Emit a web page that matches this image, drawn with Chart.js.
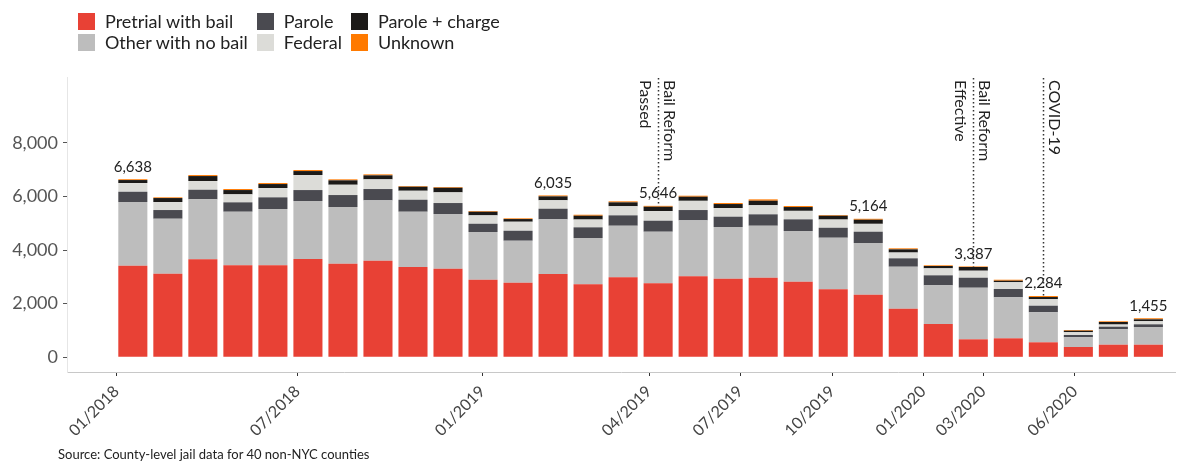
<!DOCTYPE html>
<html>
<head>
<meta charset="utf-8">
<title>Jail population by status</title>
<script src="https://cdn.jsdelivr.net/npm/chart.js@4"></script>
<style>
  html, body { margin: 0; padding: 0; background: #fff; }
  #wrap { position: relative; width: 1204px; height: 462px; font-family: Lato, sans-serif; }
  #chart { position: absolute; left: 0; top: 0; }
  #legend {
    position: absolute; left: 78px; top: 11px;
    display: grid; grid-template-rows: 21px 21px; grid-auto-flow: column; column-gap: 9px;
    font-size: 18px; color: #222;
  }
  .item { display: flex; align-items: center; line-height: 21px; white-space: nowrap; }
  .sw { width: 17px; height: 17px; margin-right: 10px; }
  #source { position: absolute; left: 58px; top: 446px; font-size: 13px; color: #222; }
</style>
</head>
<body>
<div id="wrap">
  <canvas id="chart" width="1204" height="462"></canvas>
  <div id="legend"></div>
  <div id="source">Source: County-level jail data for 40 non-NYC counties</div>
</div>
<script>
// Meses (uma barra por mês)
var months = ['01/2018', '02/2018', '03/2018', '04/2018', '05/2018', '06/2018', '07/2018', '08/2018', '09/2018', '10/2018', '11/2018', '12/2018',
              '01/2019', '02/2019', '03/2019', '04/2019', '05/2019', '06/2019', '07/2019', '08/2019', '09/2019', '10/2019', '11/2019', '12/2019',
              '01/2020', '02/2020', '03/2020', '04/2020', '05/2020', '06/2020'];

// Séries (de baixo para cima na pilha)
var pretrial     = [3414, 3116, 3652, 3429, 3429, 3664, 3489, 3601, 3365, 3302, 2892, 2780, 3105, 2721, 2982, 2758, 3019, 2929, 2967, 2818, 2534, 2333, 1811, 1241, 671, 708, 559, 384, 470, 470];
var otherNoBail  = [2374, 2050, 2237, 1998, 2098, 2161, 2113, 2250, 2062, 2039, 1778, 1566, 2038, 1725, 1923, 1924, 2086, 1928, 1938, 1889, 1924, 1927, 1566, 1442, 1923, 1528, 1118, 361, 574, 659];
var parole       = [384, 324, 358, 350, 436, 410, 447, 422, 447, 410, 309, 372, 396, 399, 387, 410, 385, 385, 425, 436, 372, 422, 313, 373, 373, 310, 246, 86, 97, 101];
var federal      = [324, 298, 324, 298, 347, 559, 384, 361, 335, 398, 313, 336, 316, 291, 340, 360, 344, 323, 339, 317, 306, 294, 216, 261, 261, 253, 242, 104, 81, 115];
var paroleCharge = [112, 149, 186, 160, 149, 149, 164, 149, 150, 172, 135, 100, 145, 142, 145, 162, 153, 149, 168, 142, 142, 153, 119, 86, 138, 56, 82, 56, 94, 71];
var unknown      = [30, 26, 37, 38, 37, 38, 37, 37, 25, 26, 26, 26, 35, 37, 37, 32, 37, 37, 51, 37, 25, 35, 37, 26, 21, 37, 37, 26, 26, 39];

// Rótulos do eixo x (posição em unidades de barra, como no original)
var tickLabels = ['01/2018', '07/2018', '01/2019', '04/2019', '07/2019', '10/2019', '01/2020', '03/2020', '06/2020'];
var tickAt     = [-0.47, 4.70, 9.98, 14.74, 17.34, 19.97, 22.57, 24.28, 26.90];
var yTicks     = [0, 2000, 4000, 6000, 8000];

// Totais rotulados e eventos
var labeledTotals = ['01/2018', '01/2019', '04/2019', '10/2019', '01/2020', '03/2020', '06/2020'];
var eventMonths = ['04/2019', '01/2020', '03/2020'];
var eventTexts  = [['Bail Reform', 'Passed'], ['Bail Reform', 'Effective'], ['COVID-19']];

var series = [
    { name: 'Pretrial with bail', values: pretrial, color: '#e84135' },
    { name: 'Other with no bail', values: otherNoBail, color: '#bdbdbd' },
    { name: 'Parole', values: parole, color: '#4a4a50' },
    { name: 'Federal', values: federal, color: '#dcdcd8' },
    { name: 'Parole + charge', values: paroleCharge, color: '#1c1a18' },
    { name: 'Unknown', values: unknown, color: '#ff7a00' }
];

var totals = months.map(function (m, i) {
    return series.reduce(function (s, d) { return s + d.values[i]; }, 0);
});

// Legenda em HTML
var legend = document.getElementById('legend');
series.forEach(function (s) {
    var item = document.createElement('div');
    item.className = 'item';
    item.innerHTML = '<span class="sw" style="background:' + s.color + '"></span>' + s.name;
    legend.appendChild(item);
});

var overlay = {
    id: 'overlay',
    afterDatasetsDraw: function (chart) {
        var ctx = chart.ctx, area = chart.chartArea;
        var x = chart.scales.x, y = chart.scales.y;
        ctx.save();

        eventMonths.forEach(function (m, k) {
            var i = months.indexOf(m);
            var px = Math.round(x.getPixelForValue(i)) + 0.5;
            ctx.beginPath();
            ctx.setLineDash([1.5, 2.5]);
            ctx.lineWidth = 1.5;
            ctx.strokeStyle = '#333';
            ctx.moveTo(px, area.top + 1);
            ctx.lineTo(px, y.getPixelForValue(totals[i]));
            ctx.stroke();

            ctx.save();
            ctx.translate(px, area.top + 3);
            ctx.rotate(Math.PI / 2);
            ctx.fillStyle = '#222';
            ctx.font = '16px Lato';
            ctx.textAlign = 'left';
            ctx.textBaseline = 'alphabetic';
            eventTexts[k].forEach(function (t, j) {
                ctx.fillText(t, 0, j === 0 ? -5 : 19);
            });
            ctx.restore();
        });

        ctx.setLineDash([]);
        ctx.fillStyle = '#222';
        ctx.font = '15px Lato';
        ctx.textAlign = 'center';
        ctx.textBaseline = 'bottom';
        labeledTotals.forEach(function (m) {
            var i = months.indexOf(m);
            ctx.fillText(totals[i].toLocaleString('en-US'), x.getPixelForValue(i), y.getPixelForValue(totals[i]) - 5);
        });
        ctx.restore();
    }
};

var ctxChart = document.getElementById('chart').getContext('2d');
var chart = new Chart(ctxChart, {
    type: 'bar',
    data: {
        datasets: series.map(function (s) {
            return {
                label: s.name,
                data: s.values.map(function (v, i) { return { x: i, y: v }; }),
                backgroundColor: s.color,
                borderWidth: 0,
                categoryPercentage: 1,
                barPercentage: 0.83
            };
        })
    },
    options: {
        responsive: false,
        animation: false,
        layout: { padding: { top: 77, right: 29, bottom: 0, left: 0 } },
        plugins: { legend: { display: false }, tooltip: { enabled: false } },
        scales: {
            x: {
                type: 'linear',
                stacked: true,
                offset: false,
                min: -1.88,
                max: 29.76,
                afterFit: function (s) { s.height = 90; },
                afterBuildTicks: function (s) { s.ticks = tickAt.map(function (v) { return { value: v }; }); },
                grid: { offset: false, drawOnChartArea: false, tickLength: 4, tickColor: '#333' },
                border: { color: '#c8c8c8' },
                ticks: {
                    autoSkip: false, minRotation: 45, maxRotation: 45, padding: 6,
                    color: '#444', font: { family: 'Lato', size: 16 },
                    callback: function (v, i) { return tickLabels[i]; }
                }
            },
            y: {
                stacked: true,
                min: -548,
                max: 10450,
                afterFit: function (s) { s.width = 67; },
                afterBuildTicks: function (s) { s.ticks = yTicks.map(function (v) { return { value: v }; }); },
                grid: { drawOnChartArea: false, tickLength: 4, tickColor: '#555' },
                border: { color: '#e6e6e6' },
                ticks: {
                    padding: 5, color: '#555', font: { family: 'Lato', size: 18 },
                    callback: function (v) { return v.toLocaleString('en-US'); }
                }
            }
        }
    },
    plugins: [overlay]
});
</script>
</body>
</html>
